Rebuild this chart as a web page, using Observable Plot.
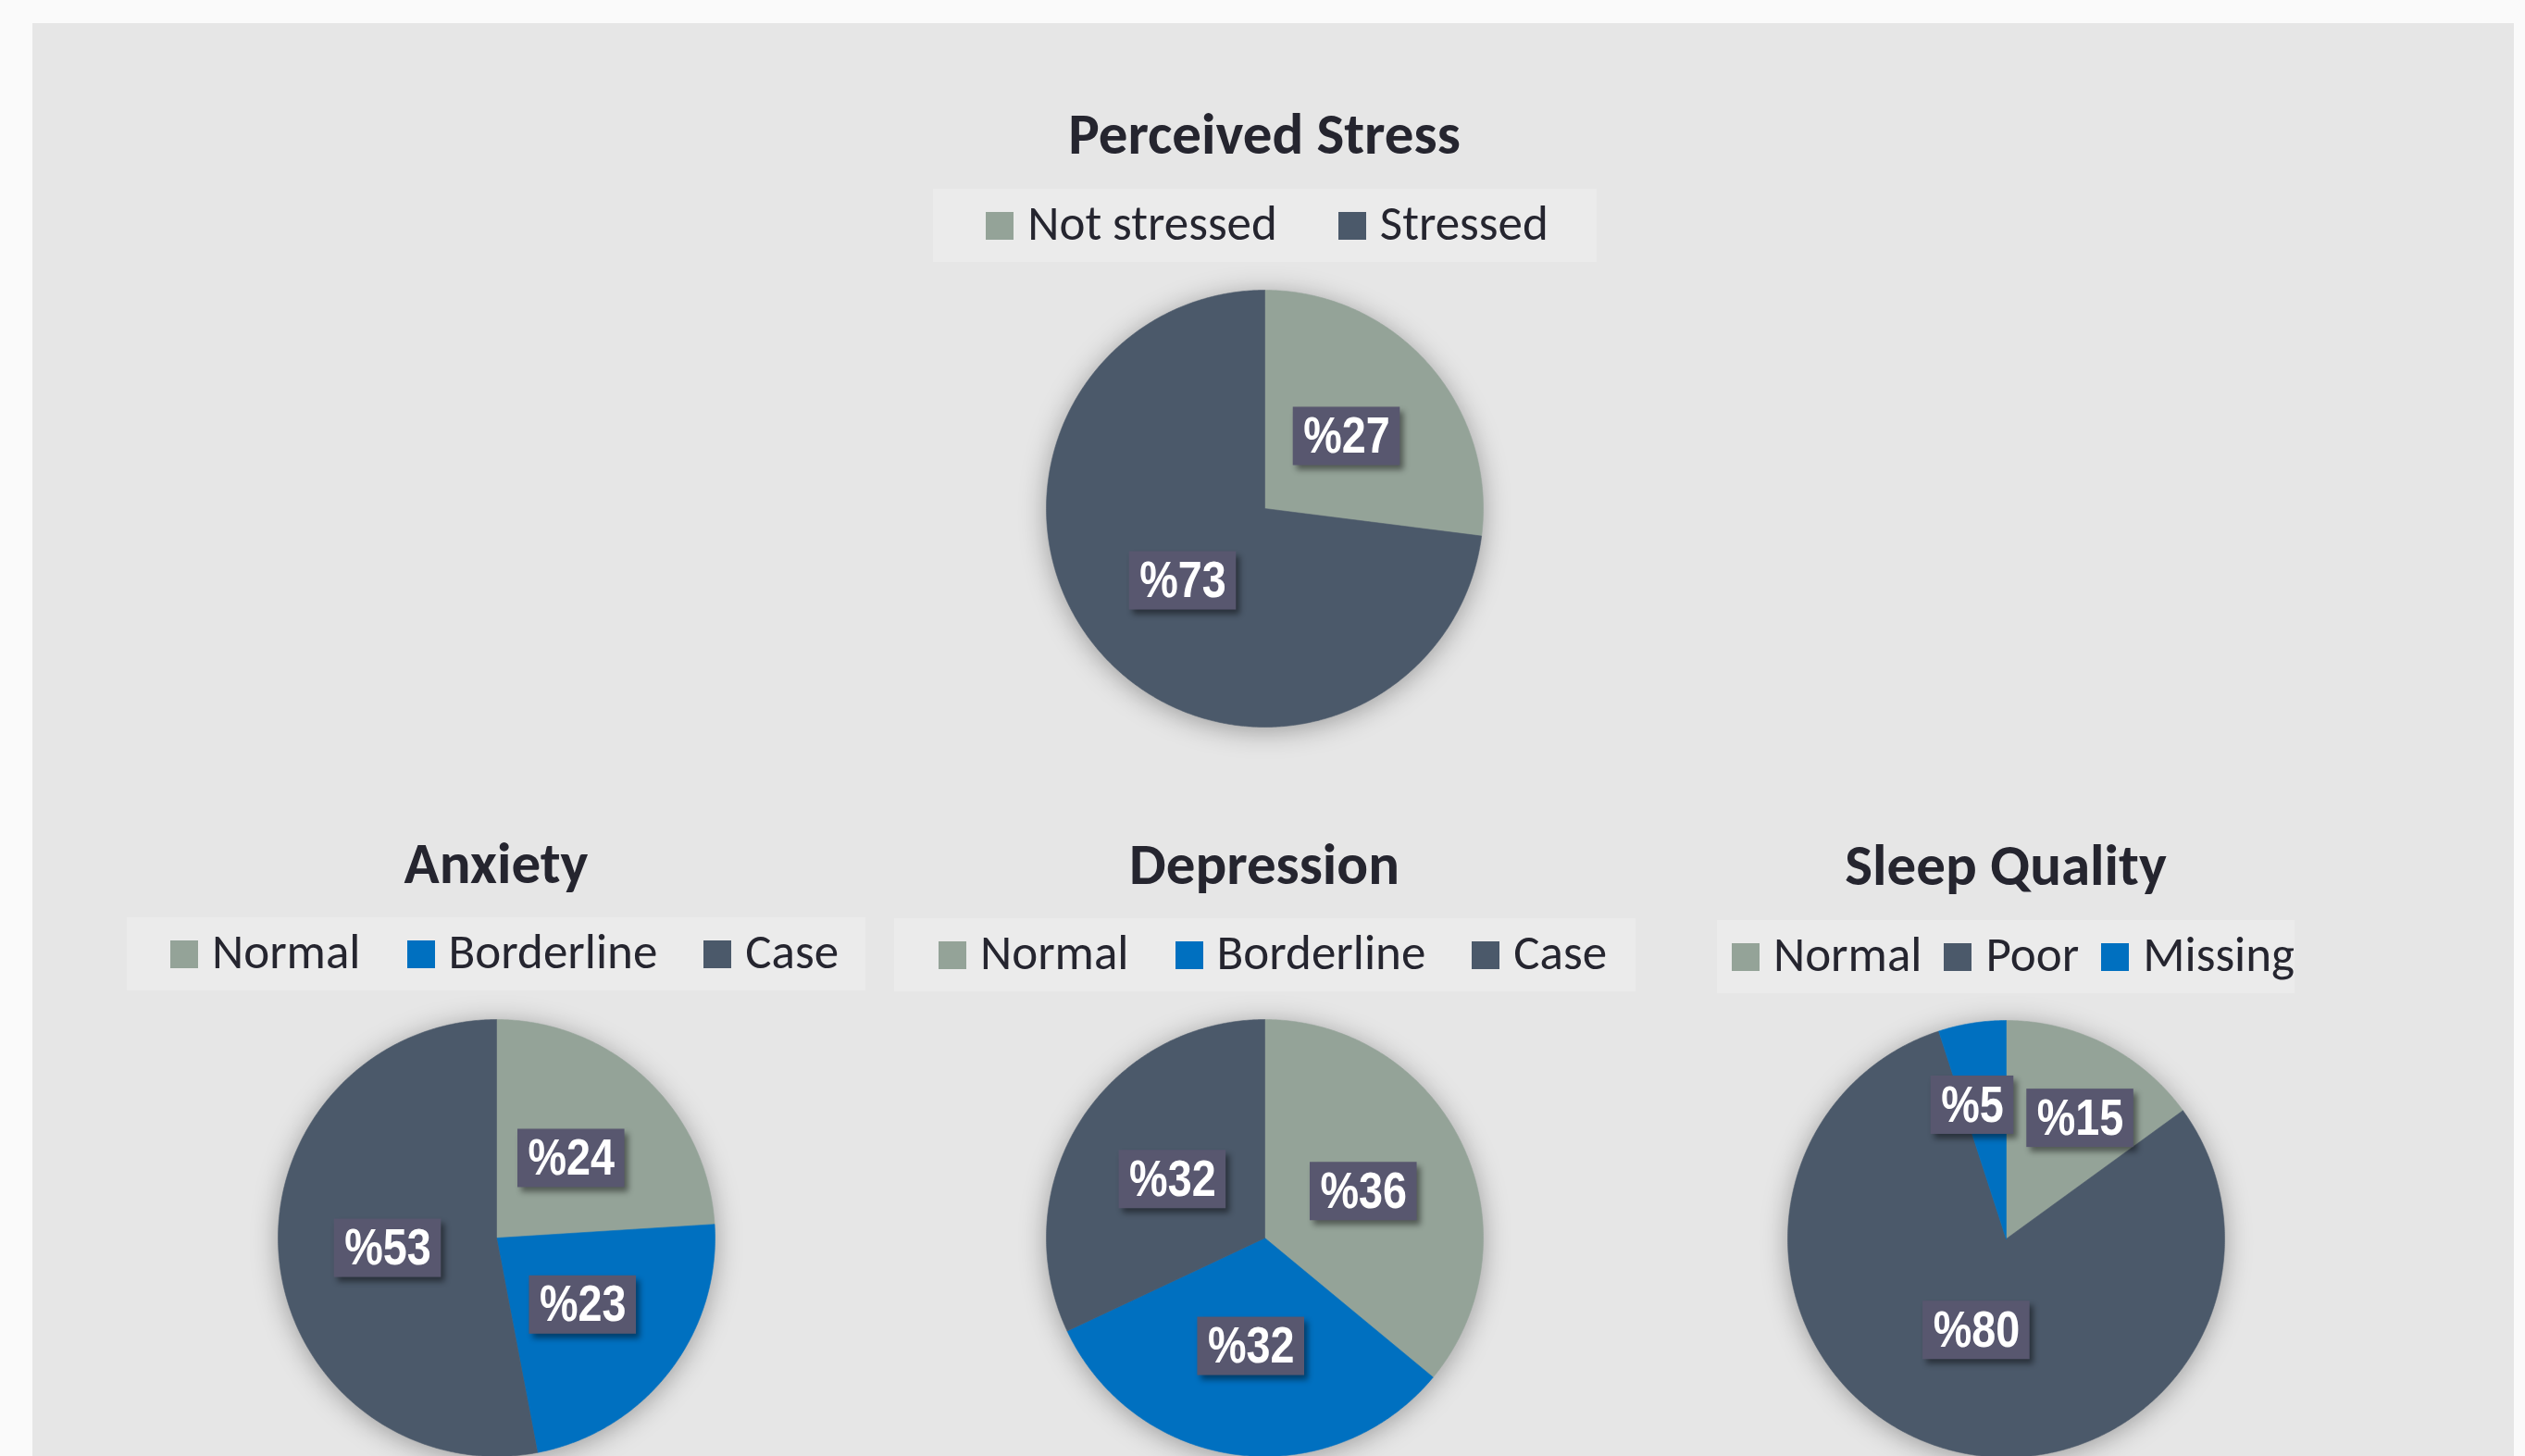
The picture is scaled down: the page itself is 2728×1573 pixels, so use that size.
<!DOCTYPE html>
<html>
<head>
<meta charset="utf-8">
<script src="https://cdn.jsdelivr.net/npm/d3@7"></script>
<script src="https://cdn.jsdelivr.net/npm/@observablehq/plot@0.6"></script>
<style>
  html, body { margin: 0; padding: 0; width: 2728px; height: 1573px; overflow: hidden; background: #fafafa; }
  #panel { position: absolute; left: 35px; top: 25px; width: 2681px; height: 1548px; background: #e6e6e6; overflow: hidden; }
  .title { position: absolute; font-family: Carlito, Lato, sans-serif; font-weight: 700; color: #25252f; white-space: nowrap; line-height: normal; }
  .legend { position: absolute; height: 79px; background: #ebebeb; display: flex; justify-content: center; align-items: center; box-sizing: border-box; }
  .legend .item { display: flex; align-items: center; white-space: nowrap; }
  .legend .sw { display: inline-block; width: 30px; height: 30px; margin-right: 15px; }
  .legend .tx { font-family: Carlito, Lato, sans-serif; font-weight: 400; color: #25252f; line-height: normal; position: relative; top: -3px; }
  .pie { position: absolute; overflow: visible; }
  .pie g[aria-label="line"] { filter: drop-shadow(0px 4px 14px rgba(0,0,0,0.32)); }
  .pie g[aria-label="rect"] { filter: drop-shadow(4px 5px 3px rgba(0,0,0,0.45)); }
</style>
</head>
<body>
<div id="panel"></div>
<script>
// ---------- DATA ----------
const pieTitles = ["Perceived Stress", "Anxiety", "Depression", "Sleep Quality"];

const stressCategories = ["Not stressed", "Stressed"];
const stressValues = [27, 73];

const anxietyCategories = ["Normal", "Borderline", "Case"];
const anxietyValues = [24, 23, 53];

const depressionCategories = ["Normal", "Borderline", "Case"];
const depressionValues = [36, 32, 32];

const sleepCategories = ["Normal", "Poor", "Missing"];
const sleepValues = [15, 80, 5];

// ---------- STYLE / LAYOUT ----------
const categoryColors = {
  "Not stressed": "#94a398", "Normal": "#94a398",
  "Stressed": "#4b596a", "Case": "#4b596a", "Poor": "#4b596a",
  "Borderline": "#0070c0", "Missing": "#0070c0"
};
const PANEL_X = 35, PANEL_Y = 25;
const R = 236, PAD = 40;
const TITLE_SIZE = 63, LEGEND_SIZE = 53;
const LABEL_SIZE = 55, LABEL_H = 63, LABEL_PADX = 11, LABEL_SQUEEZE = 0.85;
const LABEL_FONT = "'Liberation Sans', Arial, sans-serif";
const layout = [
  {cx: 1366, titleBase: 166, legendTop: 204, legendW: 717, itemGap: 66, legendPadL: 6,  cy: 549},
  {cx: 536,  titleBase: 954, legendTop: 991, legendW: 798, itemGap: 50, legendPadL: 18, cy: 1337},
  {cx: 1366, titleBase: 955, legendTop: 992, legendW: 801, itemGap: 50, legendPadL: 18, cy: 1337},
  {cx: 2167, titleBase: 956, legendTop: 994, legendW: 624, itemGap: 24, legendPadL: 16, cy: 1338}
];
const series = [
  [stressCategories, stressValues],
  [anxietyCategories, anxietyValues],
  [depressionCategories, depressionValues],
  [sleepCategories, sleepValues]
];

const panel = document.getElementById("panel");
const ctx = document.createElement("canvas").getContext("2d");

function measure(text, font) {
  ctx.font = font;
  return ctx.measureText(text);
}

pieTitles.forEach((title, i) => {
  const L = layout[i];
  const [cats, vals] = series[i];

  // Title
  const tFont = `700 ${TITLE_SIZE}px Carlito, Lato, sans-serif`;
  const tm = measure(title, tFont);
  const tEl = document.createElement("div");
  tEl.className = "title";
  tEl.style.fontSize = TITLE_SIZE + "px";
  tEl.textContent = title;
  tEl.style.left = (L.cx - PANEL_X - tm.width / 2) + "px";
  tEl.style.top = (L.titleBase - PANEL_Y - tm.fontBoundingBoxAscent) + "px";
  panel.appendChild(tEl);

  // Legend
  const lg = document.createElement("div");
  lg.className = "legend";
  lg.style.left = (L.cx - PANEL_X - L.legendW / 2) + "px";
  lg.style.top = (L.legendTop - PANEL_Y) + "px";
  lg.style.width = L.legendW + "px";
  lg.style.gap = L.itemGap + "px";
  lg.style.paddingLeft = L.legendPadL + "px";
  cats.forEach(c => {
    const it = document.createElement("div");
    it.className = "item";
    const sw = document.createElement("span");
    sw.className = "sw";
    sw.style.background = categoryColors[c];
    const tx = document.createElement("span");
    tx.className = "tx";
    tx.style.fontSize = LEGEND_SIZE + "px";
    tx.textContent = c;
    it.appendChild(sw); it.appendChild(tx);
    lg.appendChild(it);
  });
  panel.appendChild(lg);

  // Pie geometry from data
  const arcs = d3.pie().sort(null).value(d => d.value)(cats.map((c, k) => ({category: c, value: vals[k]})));
  const total = d3.sum(vals);
  const pts = [];
  arcs.forEach(a => {
    const key = a.data.category, color = categoryColors[key];
    pts.push({key, color, x: 0, y: 0});
    const n = Math.max(2, Math.ceil((a.endAngle - a.startAngle) / (Math.PI / 360)));
    for (let k = 0; k <= n; k++) {
      const t = a.startAngle + (a.endAngle - a.startAngle) * k / n;
      pts.push({key, color, x: Math.sin(t), y: Math.cos(t)});
    }
    pts.push({key, color, x: 0, y: 0});
  });

  // Labels
  const lFont = `700 ${LABEL_SIZE}px ${LABEL_FONT}`;
  const labels = arcs.map(a => {
    const frac = a.data.value / total;
    const m = (a.startAngle + a.endAngle) / 2;
    const rl = frac < 0.2 ? 0.62 : frac > 0.75 ? 0.44 : 0.5;
    const text = "%" + a.data.value;
    const tw = measure(text, lFont).width * LABEL_SQUEEZE;
    return {text, px: rl * Math.sin(m) * R, py: rl * Math.cos(m) * R, tw, w: tw + 2 * LABEL_PADX};
  });
  // resolve overlaps horizontally
  for (let p = 0; p < labels.length; p++) {
    for (let q = p + 1; q < labels.length; q++) {
      const A = labels[p], B = labels[q];
      const need = (A.w + B.w) / 2 + 14;
      if (Math.abs(A.py - B.py) < LABEL_H && Math.abs(A.px - B.px) < need) {
        const shift = (need - Math.abs(A.px - B.px)) / 2;
        if (A.px < B.px) { A.px -= shift; B.px += shift; } else { A.px += shift; B.px -= shift; }
      }
    }
  }
  labels.forEach(l => {
    l.x = l.px / R; l.y = l.py / R;
    l.x1 = (l.px - l.w / 2) / R; l.x2 = (l.px + l.w / 2) / R;
    l.y1 = (l.py - LABEL_H / 2) / R; l.y2 = (l.py + LABEL_H / 2) / R;
  });

  const svg = Plot.plot({
    width: 2 * R + 2 * PAD,
    height: 2 * R + 2 * PAD,
    margin: PAD,
    x: {domain: [-1, 1], axis: null},
    y: {domain: [-1, 1], axis: null},
    color: {type: "identity"},
    className: "pie",
    style: {background: "transparent", overflow: "visible"},
    marks: [
      Plot.line(pts, {x: "x", y: "y", z: "key", fill: "color", stroke: "color", strokeWidth: 0.6, curve: "linear"}),
      Plot.rect(labels, {x1: "x1", x2: "x2", y1: "y1", y2: "y2", fill: "#58576f"}),
      Plot.text(labels, {x: "x", y: "y", text: "text", fill: "white", fontSize: LABEL_SIZE, fontWeight: "bold", fontFamily: LABEL_FONT})
    ]
  });
  // condense label glyphs (narrow face look)
  svg.querySelectorAll('g[aria-label="text"] text').forEach((el, k) => {
    el.setAttribute("textLength", labels[k].tw);
    el.setAttribute("lengthAdjust", "spacingAndGlyphs");
  });
  svg.style.left = (L.cx - PANEL_X - R - PAD) + "px";
  svg.style.top = (L.cy - PANEL_Y - R - PAD) + "px";
  panel.appendChild(svg);
});
</script>
</body>
</html>
